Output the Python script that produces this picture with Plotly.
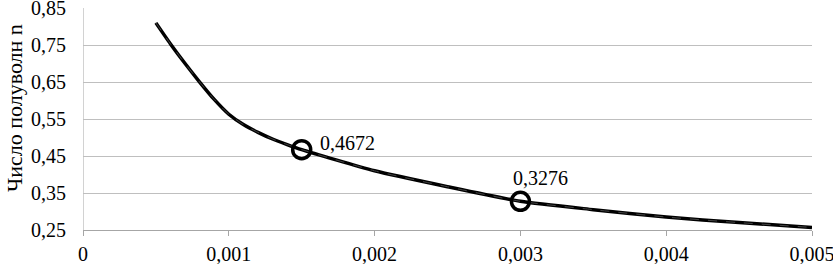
import plotly.graph_objects as go

x_vals = [0.0005, 0.0006, 0.0007, 0.0008, 0.0009, 0.001, 0.0011, 0.0012, 0.0013, 0.0014, 0.0015,
          0.002, 0.0025, 0.003, 0.0035, 0.004, 0.0045, 0.005]
n_vals = [0.81, 0.753, 0.700, 0.650, 0.603, 0.563, 0.535, 0.514, 0.496, 0.481, 0.4672,
          0.41, 0.367, 0.3276, 0.305, 0.285, 0.27, 0.257]

mark_x = [0.0015, 0.003]
mark_y = [0.4672, 0.3276]
mark_labels = ["0,4672", "0,3276"]

x_ticks = [0, 0.001, 0.002, 0.003, 0.004, 0.005]
x_ticktext = ["0", "0,001", "0,002", "0,003", "0,004", "0,005"]
y_ticks = [0.25, 0.35, 0.45, 0.55, 0.65, 0.75, 0.85]
y_ticktext = ["0,25", "0,35", "0,45", "0,55", "0,65", "0,75", "0,85"]
y_title = "Число полуволн n"

font = "Liberation Serif"

fig = go.Figure()
fig.add_trace(go.Scatter(x=x_vals, y=n_vals, mode="lines",
                         line=dict(color="black", width=3.5, shape="spline", smoothing=0.6),
                         showlegend=False, hoverinfo="skip"))
fig.add_trace(go.Scatter(x=x_vals, y=n_vals, mode="lines",
                         line=dict(color="#444", width=1, dash="dash", shape="spline", smoothing=0.6),
                         showlegend=False, hoverinfo="skip"))
fig.add_trace(go.Scatter(x=mark_x, y=mark_y, mode="markers",
                         marker=dict(symbol="circle-open", size=18, color="black",
                                     line=dict(width=3.5, color="black")),
                         showlegend=False))

fig.add_annotation(x=mark_x[0], y=mark_y[0], text=mark_labels[0], showarrow=False,
                   xanchor="left", yanchor="middle", xshift=16, yshift=7,
                   font=dict(family=font, size=20, color="black"))
fig.add_annotation(x=mark_x[1], y=mark_y[1], text=mark_labels[1], showarrow=False,
                   xanchor="center", yanchor="middle", xshift=20, yshift=23,
                   font=dict(family=font, size=20, color="black"))
fig.add_annotation(xref="paper", yref="paper", x=-0.093, y=0.55, text=y_title,
                   textangle=-90, showarrow=False, xanchor="center", yanchor="middle",
                   font=dict(family=font, size=22, color="black"))

fig.update_layout(
    width=833, height=264,
    margin=dict(l=83, r=21, t=8, b=34),
    paper_bgcolor="white", plot_bgcolor="white",
    font=dict(family=font, size=20, color="black"),
    xaxis=dict(range=[0, 0.005], tickvals=x_ticks, ticktext=x_ticktext,
               showgrid=False, zeroline=False, showline=True, linecolor="#a6a6a6",
               linewidth=1, ticks="outside", ticklen=5, tickcolor="#a6a6a6",
               ticklabelstandoff=1, automargin=False, ticklabeloverflow="allow",
               tickfont=dict(family=font, size=20)),
    yaxis=dict(range=[0.25, 0.8502], tickvals=y_ticks, ticktext=y_ticktext,
               showgrid=True, gridcolor="#bfbfbf", gridwidth=1, zeroline=False,
               showline=False, ticks="", ticklabelstandoff=16, automargin=False,
               ticklabeloverflow="allow",
               tickfont=dict(family=font, size=20)),
    shapes=[dict(type="line", xref="x", yref="paper", x0=0, x1=0, y0=0, y1=1,
                 line=dict(color="#a6a6a6", width=1), layer="below")],
)

fig.write_html("out.html", config={"displayModeBar": False},
               post_script="document.body.style.margin='0';document.body.style.padding='0';document.body.style.overflow='hidden';")
